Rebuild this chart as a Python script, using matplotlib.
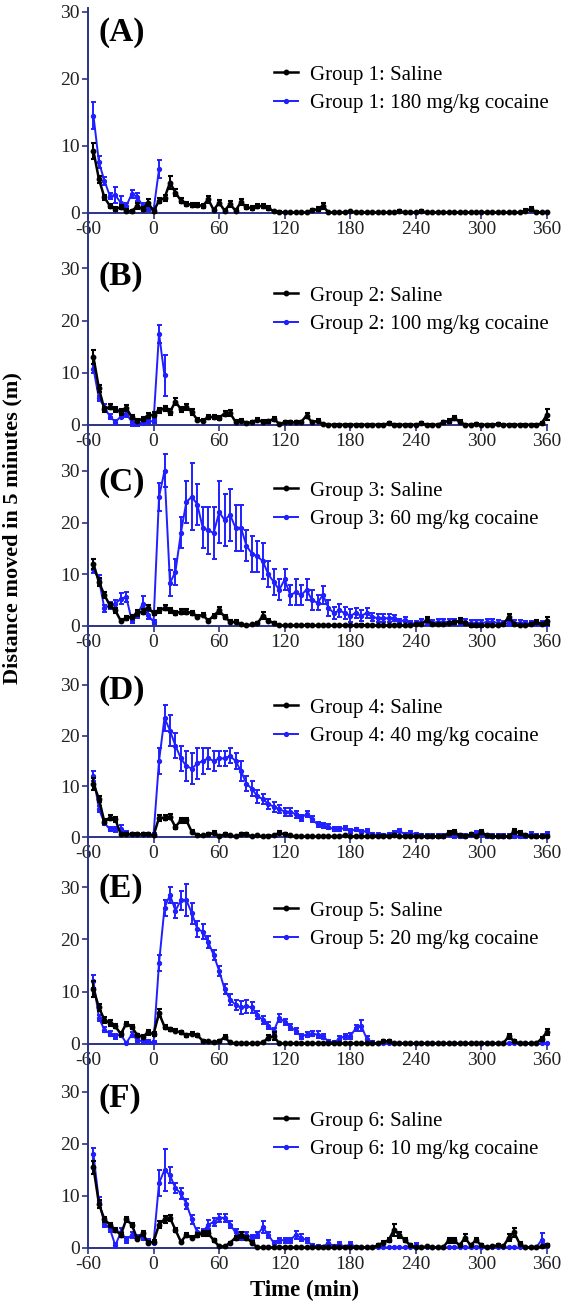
import numpy as np
import matplotlib
matplotlib.use("Agg")
import matplotlib.pyplot as plt
from matplotlib.lines import Line2D

# ---------------- data ----------------
time = list(range(-55, 361, 5))          # 84 time points (min)
time_tick_labels = ["-60", "0", "60", "120", "180", "240", "300", "360"]
time_ticks = [-60, 0, 60, 120, 180, 240, 300, 360]
y_ticks = [0, 10, 20, 30]

panel_letters = ["(A)", "(B)", "(C)", "(D)", "(E)", "(F)"]
saline_labels = ["Group 1: Saline", "Group 2: Saline", "Group 3: Saline",
                 "Group 4: Saline", "Group 5: Saline", "Group 6: Saline"]
cocaine_labels = ["Group 1: 180 mg/kg cocaine", "Group 2: 100 mg/kg cocaine",
                  "Group 3: 60 mg/kg cocaine", "Group 4: 40 mg/kg cocaine",
                  "Group 5: 20 mg/kg cocaine", "Group 6: 10 mg/kg cocaine"]

# Group 1
sal1 = [9.2, 5.0, 2.3, 1.0, 0.6, 0.8, 0.3, 0.2, 1.0, 0.5, 1.5, 0.2,
        1.8, 2.2, 4.5, 3.0, 1.8, 1.3, 1.2, 1.2, 1.0, 2.0, 0.4, 1.5,
        0.3, 1.3, 0.3, 1.6, 0.8, 0.7, 1.0, 1.0, 0.7, 0.2, 0.1, 0.05,
        0.05, 0.05, 0.05, 0.05, 0.4, 0.5, 1.0, 0.05, 0.05, 0.05, 0.05, 0.2,
        0.05, 0.05, 0.05, 0.05, 0.05, 0.05, 0.05, 0.05, 0.2, 0.05, 0.05, 0.05,
        0.2, 0.05, 0.05, 0.05, 0.05, 0.05, 0.05, 0.05, 0.05, 0.05, 0.05, 0.05,
        0.05, 0.05, 0.05, 0.05, 0.05, 0.05, 0.05, 0.3, 0.5, 0.1, 0.05, 0.05]
sal1_err = [1.2, 0.5, 0.4, 0.3, 0.3, 0.3, 0.2, 0.2, 0.4, 0.3, 0.5, 0.2,
            0.4, 0.4, 1.0, 0.5, 0.4, 0.3, 0.3, 0.3, 0.3, 0.5, 0.2, 0.4,
            0.2, 0.4, 0.2, 0.4, 0.3, 0.3, 0.3, 0.3, 0.3, 0.1, 0.1, 0.1,
            0.1, 0.1, 0.1, 0.1, 0.2, 0.3, 0.4, 0.1, 0.1, 0.1, 0.1, 0.1,
            0.1, 0.1, 0.1, 0.1, 0.1, 0.1, 0.1, 0.1, 0.2, 0.1, 0.1, 0.1,
            0.2, 0.1, 0.1, 0.1, 0.1, 0.1, 0.1, 0.1, 0.1, 0.1, 0.1, 0.1,
            0.1, 0.1, 0.1, 0.1, 0.1, 0.1, 0.1, 0.2, 0.3, 0.1, 0.1, 0.1]
coc1 = [14.5, 7.5, 4.8, 2.5, 2.6, 1.5, 1.0, 2.8, 2.4, 1.0, 0.7, 0.4, 6.5]
coc1_err = [2.0, 0.9, 0.6, 0.5, 1.2, 1.0, 0.5, 0.6, 0.6, 0.5, 0.4, 0.3, 1.3]

# Group 2
sal2 = [13.0, 7.0, 3.0, 3.5, 3.0, 2.5, 3.3, 1.5, 0.8, 1.2, 1.8, 2.0,
        2.8, 3.2, 2.5, 4.5, 3.0, 3.5, 2.5, 1.0, 0.8, 1.5, 1.6, 1.4,
        2.2, 2.3, 0.6, 0.8, 0.4, 0.5, 1.0, 0.6, 0.7, 1.2, 0.2, 0.5,
        0.5, 0.5, 0.6, 1.8, 0.5, 0.8, 0.1, 0.05, 0.05, 0.05, 0.05, 0.05,
        0.05, 0.05, 0.05, 0.05, 0.05, 0.05, 0.3, 0.05, 0.05, 0.05, 0.05, 0.05,
        0.3, 0.05, 0.05, 0.05, 0.5, 0.8, 1.3, 0.6, 0.05, 0.05, 0.2, 0.05,
        0.05, 0.05, 0.2, 0.05, 0.05, 0.05, 0.05, 0.05, 0.05, 0.05, 0.3, 2.0]
sal2_err = [1.3, 0.7, 0.5, 0.5, 0.5, 0.5, 0.6, 0.4, 0.3, 0.4, 0.5, 0.5,
            0.5, 0.5, 0.5, 0.6, 0.5, 0.6, 0.5, 0.3, 0.3, 0.4, 0.4, 0.4,
            0.5, 0.5, 0.3, 0.3, 0.2, 0.2, 0.3, 0.3, 0.3, 0.4, 0.1, 0.2,
            0.2, 0.2, 0.2, 0.5, 0.2, 0.3, 0.1, 0.1, 0.1, 0.1, 0.1, 0.1,
            0.1, 0.1, 0.1, 0.1, 0.1, 0.1, 0.2, 0.1, 0.1, 0.1, 0.1, 0.1,
            0.2, 0.1, 0.1, 0.1, 0.3, 0.4, 0.4, 0.3, 0.1, 0.1, 0.1, 0.1,
            0.1, 0.1, 0.1, 0.1, 0.1, 0.1, 0.1, 0.1, 0.1, 0.1, 0.2, 1.0]
coc2 = [10.8, 5.1, 3.5, 1.6, 0.6, 1.6, 2.2, 0.6, 0.3, 0.4, 0.6, 0.8, 17.5, 9.5]
coc2_err = [0.8, 0.5, 0.6, 0.5, 0.4, 0.3, 0.7, 0.8, 0.4, 0.3, 0.3, 0.4, 1.7, 4.0]

# Group 3
sal3 = [12.0, 8.5, 6.0, 4.0, 3.0, 1.0, 1.5, 1.8, 2.5, 2.8, 3.5, 2.5,
        3.0, 3.5, 3.0, 2.5, 2.8, 2.8, 2.5, 1.8, 2.2, 1.0, 2.0, 3.0,
        1.8, 0.8, 0.8, 0.3, 0.1, 0.3, 0.5, 2.0, 1.0, 0.6, 0.1, 0.1,
        0.1, 0.1, 0.1, 0.2, 0.1, 0.1, 0.1, 0.1, 0.1, 0.1, 0.1, 0.1,
        0.1, 0.2, 0.1, 0.1, 0.1, 0.1, 0.1, 0.1, 0.1, 0.1, 0.1, 0.3,
        0.3, 1.2, 0.4, 0.3, 0.3, 0.5, 0.7, 1.0, 0.5, 0.1, 0.1, 0.1,
        0.1, 0.1, 0.1, 0.3, 1.8, 0.3, 0.1, 0.1, 0.3, 0.8, 0.3, 1.0]
sal3_err = [1.0, 0.8, 0.6, 0.5, 0.5, 0.3, 0.4, 0.4, 0.5, 0.5, 0.5, 0.4,
            0.5, 0.5, 0.4, 0.4, 0.4, 0.4, 0.4, 0.3, 0.3, 0.3, 0.4, 0.6,
            0.4, 0.3, 0.3, 0.1, 0.1, 0.1, 0.2, 0.7, 0.3, 0.2, 0.1, 0.1,
            0.1, 0.1, 0.1, 0.1, 0.1, 0.1, 0.1, 0.1, 0.1, 0.1, 0.1, 0.1,
            0.1, 0.1, 0.1, 0.1, 0.1, 0.1, 0.1, 0.1, 0.1, 0.1, 0.1, 0.1,
            0.1, 0.5, 0.2, 0.1, 0.1, 0.2, 0.3, 0.5, 0.2, 0.1, 0.1, 0.1,
            0.1, 0.1, 0.1, 0.1, 0.6, 0.1, 0.1, 0.1, 0.2, 0.4, 0.1, 0.8]
coc3 = [11.0, 9.0, 3.4, 4.0, 4.3, 5.3, 5.6, 1.1, 2.1, 4.3, 2.1, 0.8,
        25.0, 30.0, 8.3, 10.5, 18.0, 24.0, 25.0, 23.5, 19.0, 18.5, 18.0, 22.0,
        20.5, 21.5, 19.0, 19.0, 15.5, 14.0, 13.5, 12.5, 10.0, 8.5, 7.0, 9.0,
        6.0, 6.5, 6.0, 7.0, 5.0, 4.5, 6.0, 3.5, 2.5, 3.0, 2.5, 2.0,
        2.5, 2.0, 2.5, 1.8, 1.5, 1.5, 1.5, 1.5, 0.8, 1.2, 0.5, 0.5,
        0.8, 0.8, 0.6, 0.8, 0.8, 0.8, 0.8, 0.8, 0.8, 0.5, 0.5, 0.5,
        0.8, 0.8, 0.6, 0.5, 0.5, 0.6, 0.6, 0.5, 0.5, 0.5, 0.5, 0.5]
coc3_err = [0.8, 0.8, 0.6, 0.7, 0.8, 1.0, 1.0, 0.6, 0.6, 1.5, 0.8, 0.4,
            2.7, 3.2, 2.5, 2.5, 3.0, 4.0, 6.5, 4.0, 4.0, 4.5, 5.0, 6.0,
            5.0, 5.0, 4.5, 4.5, 3.0, 3.5, 3.0, 3.5, 2.5, 2.5, 2.0, 2.0,
            2.0, 2.5, 2.0, 2.0, 2.0, 1.5, 1.8, 1.5, 1.2, 1.2, 1.2, 1.2,
            1.0, 1.0, 1.0, 0.8, 0.8, 0.8, 0.8, 0.6, 0.5, 0.5, 0.4, 0.4,
            0.6, 0.6, 0.6, 0.6, 0.6, 0.6, 0.6, 0.6, 0.6, 0.6, 0.6, 0.6,
            0.5, 0.5, 0.5, 0.5, 0.5, 0.5, 0.5, 0.5, 0.5, 0.5, 0.5, 0.5]

# Group 4
sal4 = [10.5, 7.5, 3.0, 3.8, 3.5, 0.5, 0.5, 0.5, 0.5, 0.5, 0.5, 0.3,
        3.8, 3.8, 4.0, 2.0, 3.3, 3.3, 1.0, 0.4, 0.3, 0.5, 0.8, 0.2,
        0.5, 0.3, 0.1, 0.5, 0.5, 0.1, 0.3, 0.1, 0.2, 0.3, 0.8, 0.5,
        0.3, 0.1, 0.1, 0.1, 0.1, 0.1, 0.1, 0.1, 0.1, 0.1, 0.3, 0.1,
        0.1, 0.1, 0.1, 0.1, 0.1, 0.2, 0.1, 0.4, 0.1, 0.1, 0.1, 0.1,
        0.1, 0.1, 0.1, 0.1, 0.1, 0.8, 0.9, 0.3, 0.1, 0.5, 0.1, 0.9,
        0.3, 0.1, 0.1, 0.1, 0.1, 1.1, 0.8, 0.3, 0.1, 0.1, 0.1, 0.1]
sal4_err = [1.2, 0.6, 0.5, 0.5, 0.5, 0.2, 0.2, 0.2, 0.2, 0.2, 0.2, 0.1,
            0.6, 0.5, 0.5, 0.4, 0.5, 0.5, 0.3, 0.2, 0.1, 0.2, 0.3, 0.1,
            0.2, 0.1, 0.1, 0.2, 0.2, 0.1, 0.1, 0.1, 0.1, 0.1, 0.3, 0.2,
            0.1, 0.1, 0.1, 0.1, 0.1, 0.1, 0.1, 0.1, 0.1, 0.1, 0.1, 0.1,
            0.1, 0.1, 0.1, 0.1, 0.1, 0.1, 0.1, 0.1, 0.1, 0.1, 0.1, 0.1,
            0.1, 0.1, 0.1, 0.1, 0.1, 0.4, 0.4, 0.2, 0.1, 0.3, 0.1, 0.4,
            0.1, 0.1, 0.1, 0.1, 0.1, 0.5, 0.4, 0.1, 0.1, 0.1, 0.1, 0.1]
coc4 = [12.0, 5.5, 2.8, 1.5, 1.5, 1.5, 0.8, 0.5, 0.5, 0.5, 0.5, 0.5,
        15.0, 23.5, 21.0, 18.0, 15.5, 14.0, 13.5, 14.5, 15.0, 15.5, 15.0, 15.5,
        15.5, 16.0, 15.0, 13.0, 10.5, 9.5, 8.0, 7.5, 6.5, 6.0, 5.5, 5.0,
        5.0, 4.5, 3.8, 4.5, 3.5, 2.5, 2.3, 2.0, 1.5, 1.5, 1.8, 1.2,
        1.5, 1.0, 1.2, 0.5, 0.4, 0.3, 0.5, 0.8, 1.2, 0.5, 0.8, 0.5,
        0.3, 0.2, 0.2, 0.2, 0.2, 0.5, 0.2, 0.2, 0.2, 0.3, 0.8, 0.5,
        0.2, 0.2, 0.2, 0.2, 0.2, 0.2, 0.2, 0.2, 0.6, 0.2, 0.2, 0.6]
coc4_err = [1.0, 0.6, 0.5, 0.4, 0.5, 0.8, 0.4, 0.3, 0.3, 0.3, 0.3, 0.3,
            2.5, 2.5, 3.0, 2.5, 2.5, 3.0, 3.0, 3.0, 2.5, 2.0, 2.0, 1.5,
            1.5, 1.5, 1.5, 2.0, 1.5, 1.5, 1.2, 1.0, 1.0, 1.0, 0.8, 0.8,
            0.8, 0.7, 0.6, 0.6, 0.6, 0.5, 0.5, 0.5, 0.4, 0.4, 0.4, 0.4,
            0.3, 0.3, 0.3, 0.3, 0.3, 0.3, 0.3, 0.3, 0.3, 0.3, 0.3, 0.3,
            0.3, 0.3, 0.3, 0.3, 0.3, 0.3, 0.3, 0.3, 0.3, 0.3, 0.3, 0.3,
            0.3, 0.3, 0.3, 0.3, 0.3, 0.3, 0.3, 0.3, 0.3, 0.3, 0.3, 0.3]

# Group 5
sal5 = [10.5, 7.0, 4.6, 4.0, 3.4, 1.9, 3.9, 3.3, 1.7, 1.4, 2.2, 1.9,
        5.9, 3.3, 2.8, 2.5, 2.2, 1.7, 2.0, 1.7, 0.6, 0.5, 0.3, 0.5,
        1.3, 0.3, 0.1, 0.1, 0.1, 0.1, 0.1, 0.3, 1.2, 1.5, 0.1, 0.1,
        0.1, 0.1, 0.1, 0.1, 0.1, 0.1, 0.1, 0.1, 0.1, 0.1, 0.1, 0.1,
        0.1, 0.1, 0.1, 0.1, 0.1, 0.5, 0.5, 0.1, 0.1, 0.1, 0.1, 0.1,
        0.1, 0.1, 0.1, 0.1, 0.1, 0.1, 0.1, 0.1, 0.1, 0.1, 0.1, 0.1,
        0.1, 0.1, 0.1, 0.1, 1.5, 0.5, 0.1, 0.1, 0.1, 0.1, 1.0, 2.3]
sal5_err = [1.5, 0.7, 0.5, 0.5, 0.4, 0.3, 0.4, 0.4, 0.3, 0.3, 0.4, 0.3,
            0.7, 0.4, 0.3, 0.3, 0.3, 0.3, 0.3, 0.3, 0.2, 0.1, 0.1, 0.2,
            0.4, 0.1, 0.1, 0.1, 0.1, 0.1, 0.1, 0.1, 0.5, 0.7, 0.1, 0.1,
            0.1, 0.1, 0.1, 0.1, 0.1, 0.1, 0.1, 0.1, 0.1, 0.1, 0.1, 0.1,
            0.1, 0.1, 0.1, 0.1, 0.1, 0.2, 0.2, 0.1, 0.1, 0.1, 0.1, 0.1,
            0.1, 0.1, 0.1, 0.1, 0.1, 0.1, 0.1, 0.1, 0.1, 0.1, 0.1, 0.1,
            0.1, 0.1, 0.1, 0.1, 0.5, 0.2, 0.1, 0.1, 0.1, 0.1, 0.4, 0.6]
coc5 = [12.0, 5.0, 2.7, 2.0, 1.5, 1.8, 0.2, 1.8, 0.8, 0.5, 0.5, 0.3,
        15.5, 26.0, 28.5, 25.5, 27.5, 27.5, 25.0, 22.0, 21.5, 19.5, 17.0, 14.0,
        10.5, 8.5, 7.5, 7.0, 7.2, 7.0, 5.5, 4.6, 3.5, 2.5, 5.0, 4.2,
        3.3, 2.5, 1.5, 1.8, 2.0, 1.8, 1.5, 0.5, 0.3, 1.0, 1.5, 1.5,
        3.0, 3.5, 1.0, 0.3, 0.1, 0.1, 0.1, 0.1, 0.1, 0.1, 0.1, 0.1,
        0.1, 0.1, 0.1, 0.1, 0.1, 0.1, 0.1, 0.1, 0.1, 0.1, 0.1, 0.1,
        0.1, 0.1, 0.1, 0.1, 0.1, 0.1, 0.1, 0.1, 0.1, 0.1, 0.1, 0.1]
coc5_err = [1.2, 0.6, 0.5, 0.5, 0.5, 0.5, 0.2, 0.5, 0.4, 0.3, 0.3, 0.2,
            1.5, 1.5, 1.5, 1.5, 1.8, 3.0, 2.0, 1.5, 1.5, 1.2, 1.0, 1.0,
            1.0, 1.0, 1.0, 1.2, 1.2, 1.0, 0.8, 0.8, 0.7, 0.6, 0.8, 0.6,
            0.6, 0.5, 0.5, 0.5, 0.5, 0.6, 0.5, 0.3, 0.2, 0.5, 0.5, 0.6,
            0.6, 1.0, 0.5, 0.2, 0.1, 0.1, 0.1, 0.1, 0.1, 0.1, 0.1, 0.1,
            0.1, 0.1, 0.1, 0.1, 0.1, 0.1, 0.1, 0.1, 0.1, 0.1, 0.1, 0.1,
            0.1, 0.1, 0.1, 0.1, 0.1, 0.1, 0.1, 0.1, 0.1, 0.1, 0.1, 0.1]

# Group 6
sal6 = [15.5, 8.5, 5.5, 4.5, 3.5, 2.5, 5.5, 4.5, 1.8, 2.8, 1.0, 1.2,
        4.5, 5.5, 5.8, 3.5, 1.2, 2.5, 2.0, 2.5, 2.8, 2.8, 1.5, 0.3,
        0.3, 1.0, 2.0, 2.5, 2.0, 1.0, 0.1, 0.1, 0.1, 0.1, 0.1, 0.1,
        0.1, 0.1, 0.1, 0.1, 0.1, 0.1, 0.1, 0.1, 0.1, 0.1, 0.1, 0.1,
        0.1, 0.1, 0.1, 0.1, 0.5, 1.0, 1.5, 3.5, 2.5, 1.5, 0.5, 0.1,
        0.1, 0.3, 0.1, 0.1, 0.1, 1.5, 1.5, 0.5, 2.0, 0.5, 1.5, 0.5,
        0.1, 0.3, 0.5, 0.3, 2.0, 3.0, 0.8, 0.1, 0.1, 0.1, 0.3, 0.5]
sal6_err = [1.2, 0.8, 0.5, 0.4, 0.4, 0.3, 0.5, 0.4, 0.3, 0.4, 0.3, 0.3,
            0.6, 0.6, 0.6, 0.4, 0.2, 0.3, 0.3, 0.3, 0.4, 0.4, 0.3, 0.1,
            0.1, 0.2, 0.4, 0.5, 0.4, 0.3, 0.1, 0.1, 0.1, 0.1, 0.1, 0.1,
            0.1, 0.1, 0.1, 0.1, 0.1, 0.1, 0.1, 0.1, 0.1, 0.1, 0.1, 0.1,
            0.1, 0.1, 0.1, 0.1, 0.2, 0.3, 0.4, 1.2, 0.6, 0.4, 0.2, 0.1,
            0.1, 0.1, 0.1, 0.1, 0.1, 0.5, 0.5, 0.2, 0.6, 0.2, 0.4, 0.2,
            0.1, 0.1, 0.2, 0.1, 0.6, 0.8, 0.3, 0.1, 0.1, 0.1, 0.1, 0.2]
coc6 = [18.0, 9.0, 4.7, 3.7, 0.5, 3.0, 1.5, 2.5, 2.0, 2.0, 1.3, 1.0,
        12.5, 15.0, 14.0, 11.5, 10.5, 8.5, 5.5, 3.0, 3.0, 4.5, 5.0, 5.8,
        5.8, 4.5, 3.0, 2.0, 2.5, 2.0, 2.5, 4.0, 2.5, 1.0, 1.5, 1.5,
        1.5, 2.5, 2.0, 1.5, 0.5, 0.3, 0.2, 1.0, 0.3, 0.8, 0.2, 0.8,
        0.2, 0.1, 0.1, 0.1, 0.1, 0.1, 0.1, 0.1, 0.1, 0.1, 0.1, 0.5,
        0.1, 0.1, 0.1, 0.1, 0.1, 0.1, 0.1, 0.1, 0.1, 0.1, 0.1, 0.1,
        0.1, 0.1, 0.1, 0.1, 0.1, 0.1, 0.1, 0.1, 0.1, 0.1, 1.5, 0.3]
coc6_err = [1.2, 0.8, 0.6, 0.6, 0.5, 0.8, 0.6, 0.6, 0.5, 0.5, 0.4, 0.3,
            2.5, 4.0, 1.5, 1.0, 1.0, 1.0, 0.8, 0.8, 0.6, 0.8, 0.8, 0.8,
            0.8, 0.6, 0.6, 0.5, 0.5, 0.5, 0.6, 1.2, 0.6, 0.3, 0.5, 0.5,
            0.5, 0.8, 0.6, 0.5, 0.3, 0.2, 0.2, 0.5, 0.2, 0.4, 0.2, 0.4,
            0.1, 0.1, 0.1, 0.1, 0.1, 0.1, 0.1, 0.1, 0.1, 0.1, 0.1, 0.4,
            0.1, 0.1, 0.1, 0.1, 0.1, 0.1, 0.1, 0.1, 0.1, 0.1, 0.1, 0.1,
            0.1, 0.1, 0.1, 0.1, 0.1, 0.1, 0.1, 0.1, 0.1, 0.1, 1.3, 0.2]

saline = [sal1, sal2, sal3, sal4, sal5, sal6]
saline_err = [sal1_err, sal2_err, sal3_err, sal4_err, sal5_err, sal6_err]
cocaine = [coc1, coc2, coc3, coc4, coc5, coc6]
cocaine_err = [coc1_err, coc2_err, coc3_err, coc4_err, coc5_err, coc6_err]

# ---------------- layout (pixels) ----------------
W, H = 566, 1307
LEFT, RIGHT = 88, 547
# (zero-line y px, top-of-axes y px, px per unit)
geom = [(212.7, 8.3, 6.7), (425, 212.7, 5.22), (626, 425, 5.17),
        (837, 626, 5.07), (1044, 837, 5.23), (1248, 1044, 5.2)]
letter_y = [33, 277, 483, 690, 889, 1098]
legend_top = [65, 286, 481, 698, 901, 1111]

AXC = "#2b3388"
BLUE = "#1f1fff"
SERIF = ["Liberation Serif", "DejaVu Serif"]
plt.rcParams["font.family"] = SERIF

fig = plt.figure(figsize=(W / 100, H / 100), dpi=100)

for i in range(6):
    y0, ytop, ppu = geom[i]
    ax = fig.add_axes([LEFT / W, 1 - y0 / H, (RIGHT - LEFT) / W, (y0 - ytop) / H])
    ax.patch.set_alpha(0)
    nb = len(cocaine[i])
    ax.errorbar(time[:nb], cocaine[i], yerr=cocaine_err[i], color=BLUE, lw=1.4,
                marker="o", ms=2.8, elinewidth=1.4, capsize=1.8, capthick=1.4,
                clip_on=False, zorder=3)
    ax.errorbar(time, saline[i], yerr=saline_err[i], color="black", lw=1.8,
                marker="o", ms=3.2, elinewidth=1.5, capsize=1.8, capthick=1.5,
                clip_on=False, zorder=4)
    ax.set_xlim(-60, 360)
    ax.set_ylim(0, (y0 - ytop) / ppu)
    ax.set_xticks(time_ticks)
    ax.set_xticklabels(time_tick_labels)
    ax.set_yticks(y_ticks)
    for s in ["top", "right"]:
        ax.spines[s].set_visible(False)
    for s in ["left", "bottom"]:
        ax.spines[s].set_color(AXC)
        ax.spines[s].set_linewidth(1.4)
        ax.spines[s].set_zorder(2)
    ax.tick_params(axis="both", direction="out", length=4, width=1.2,
                   color=AXC, labelsize=14, labelcolor="#222222", pad=2)
    # panel letter
    fig.text(99 / W, 1 - letter_y[i] / H, panel_letters[i], fontsize=24,
             fontweight="bold", ha="left", va="center", color="black")
    handles = [Line2D([], [], color="black", lw=1.8, marker="o", ms=3.2),
               Line2D([], [], color=BLUE, lw=1.4, marker="o", ms=2.8)]
    ax.legend(handles, [saline_labels[i], cocaine_labels[i]], loc="upper left",
              bbox_to_anchor=(274 / W, 1 - legend_top[i] / H),
              bbox_transform=fig.transFigure, frameon=False, fontsize=15,
              handlelength=1.15, handletextpad=0.6, labelspacing=0.42,
              borderpad=0, borderaxespad=0)

fig.text(12 / W, 1 - 528 / H, "Distance moved in 5 minutes (m)", rotation=90,
         fontsize=16, fontweight="bold", ha="center", va="center")
fig.text(305 / W, 1 - 1290 / H, "Time (min)", fontsize=16.5, fontweight="bold",
         ha="center", va="center")

fig.savefig("out.png", dpi=100)
